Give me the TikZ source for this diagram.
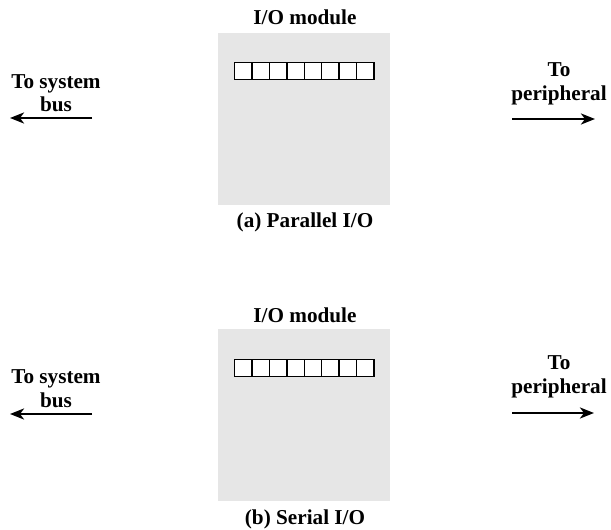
\documentclass[tikz,border=0pt]{standalone}
\usepackage{fontspec}
\setmainfont{Liberation Serif}
\usetikzlibrary{arrows.meta,positioning}
\definecolor{IOGray} {HTML}{E6E6E6}
\definecolor{IOBlack}{HTML}{000000}
\definecolor{IOWhite}{HTML}{FFFFFF}

\begin{document}
\begin{tikzpicture}[x=0.5pt,y=-0.5pt,
    modbox/.style={fill=IOGray,minimum width=86pt,minimum height=86pt,inner sep=0pt,anchor=north west},
    regcell/.style={draw=IOBlack,fill=IOWhite,line width=0.7pt,minimum width=8.7pt,minimum height=8.5pt,inner sep=0pt,anchor=north west},
    lbl/.style={font=\fontsize{10.6}{12}\selectfont\bfseries,text=IOBlack,inner sep=0pt,anchor=base},
    side/.style={lbl,align=center},
    busarrow/.style={-{Stealth[length=7pt,width=5.5pt,inset=2pt]},line width=1.3pt,draw=IOBlack}]
    \useasboundingbox (0,0) rectangle (611,530);

    % (a) parallel
    \node[modbox] (modA) at (218,33) {};
    \node[lbl] (titleA) at (305,25) {I/O module};
    \foreach \i in {0,...,7}
      \node[regcell] (regA\i) at (234+\i*17.4,62) {};
    \node[lbl] (capA) at (305,227) {(a) Parallel I/O};

    \node[side] (busA) at (56,112) {To system\\bus};
    \coordinate (busAfrom) at (92,118);
    \coordinate (busAto)   at (10,118);
    \draw[busarrow] (busAfrom) -- (busAto);

    \node[side] (perA) at (559,100) {To\\peripheral};
    \coordinate (perAfrom) at (512,119);
    \coordinate (perAto)   at (595,119);
    \draw[busarrow] (perAfrom) -- (perAto);

    % (b) serial
    \node[modbox] (modB) at (218,329) {};
    \node[lbl] (titleB) at (305,322) {I/O module};
    \foreach \i in {0,...,7}
      \node[regcell] (regB\i) at (234+\i*17.4,359) {};
    \node[lbl] (capB) at (305,524) {(b) Serial I/O};

    \node[side] (busB) at (56,407) {To system\\bus};
    \coordinate (busBfrom) at (92,414);
    \coordinate (busBto)   at (10,414);
    \draw[busarrow] (busBfrom) -- (busBto);

    \node[side] (perB) at (559,393) {To\\peripheral};
    \coordinate (perBfrom) at (512,413);
    \coordinate (perBto)   at (594,413);
    \draw[busarrow] (perBfrom) -- (perBto);
\end{tikzpicture}
\end{document}
